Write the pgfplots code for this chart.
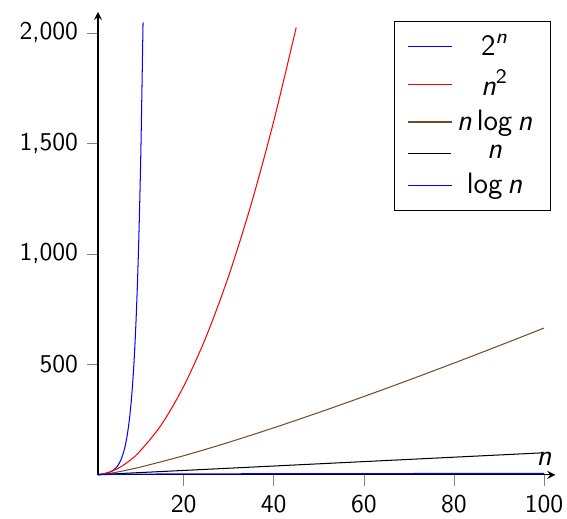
\documentclass[border=0pt]{standalone}
\usepackage{pgfplots}
\pgfplotsset{compat=1.18}

\begin{document}
\begin{tikzpicture}[font=\sffamily]
\begin{axis}[
  scale only axis,
  width=178.5pt, height=180.7pt,
  axis lines=left,
  clip=false,
  xmin=1, xmax=102.5,
  ymin=0, ymax=2095,
  xtick={20,40,60,80,100},
  ytick={500,1000,1500,2000},
  tick align=outside,
  tick style={gray},
  /pgf/number format/assume math mode=true,
  /pgf/number format/1000 sep={,},
  xlabel={\textit{n}},
  every axis x label/.style={at={(axis cs:100,0)}, anchor=south,
    font=\sffamily\fontsize{11.5}{14}\selectfont},
  legend style={at={(0.99,0.98)}, anchor=north east,
    font=\sffamily\fontsize{11.5}{14}\selectfont, row sep=0.3pt,
    inner ysep=3pt, inner xsep=5pt},
  legend cell align=center,
]
\addplot[blue, smooth] coordinates {
  (1,2) (1.5,2.828) (2,4) (2.5,5.657) (3,8) (3.5,11.31) (4,16) (4.5,22.63)
  (5,32) (5.5,45.25) (6,64) (6.5,90.51) (7,128) (7.5,181.0) (8,256)
  (8.5,362.0) (9,512) (9.5,724.1) (10,1024) (10.5,1448.2) (11,2048)
};
\addlegendentry{2\textsuperscript{\textit{n}}}
\addplot[red, smooth] coordinates {
  (1,1) (3,9) (5,25) (7,49) (10,100) (15,225) (20,400) (25,625)
  (30,900) (35,1225) (40,1600) (45,2025)
};
\addlegendentry{\textit{n}\textsuperscript{2}}
\addplot[brown!60!black, smooth] coordinates {
  (1,0) (2,2) (3,4.75) (5,11.61) (10,33.22) (20,86.44) (30,147.21)
  (40,212.88) (50,282.19) (60,354.41) (70,429.05) (80,505.75)
  (90,584.27) (100,664.39)
};
\addlegendentry{\textit{n}\,log\,\textit{n}}
\addplot[black] coordinates {
  (1,1) (100,100)
};
\addlegendentry{\textit{n}}
\addplot[blue, smooth] coordinates {
  (1,0) (2,1) (4,2) (10,3.32) (20,4.32) (50,5.64) (100,6.64)
};
\addlegendentry{log\,\textit{n}}
% page frame, matched to the reference's margins
\coordinate (bbsw) at (axis cs:-20.75,-199);
\coordinate (bbne) at (axis cs:105.1,2149);
\end{axis}
\pgfresetboundingbox
\path (bbsw) rectangle (bbne);
\end{tikzpicture}
\end{document}
